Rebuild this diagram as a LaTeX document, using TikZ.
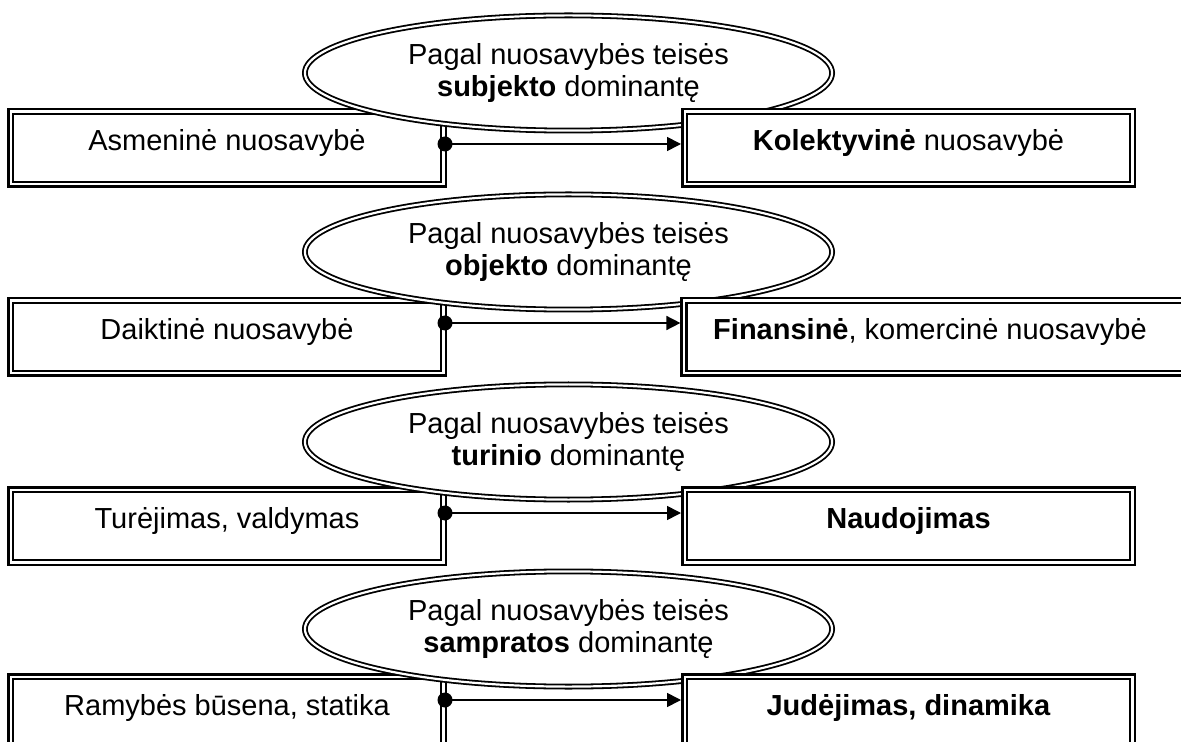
\documentclass[tikz,border=0pt]{standalone}
\usepackage{fontspec}
\setmainfont{Liberation Sans}
\usetikzlibrary{arrows.meta,shapes.geometric}
\tikzset{
  lbl/.style={font=\fontsize{14.5}{15.5}\selectfont, text height=10.5pt, text depth=8pt},
  boxnode/.style={rectangle, draw, line width=1.25pt, double=white, double distance=1.2pt, fill=white, inner sep=0pt, outer sep=1.85pt, minimum height=36.3pt, lbl},
  leftbox/.style={boxnode, minimum width=216.3pt},
  rightbox/.style={boxnode, minimum width=223.8pt},
  widebox/.style={boxnode, minimum width=257.9pt},
  oval/.style={ellipse, draw, line width=0.9pt, double=white, double distance=1.1pt, fill=white, inner sep=0pt, minimum width=263.6pt, minimum height=57.6pt, align=center, font=\fontsize{14.5}{15.8}\selectfont},
  dotnode/.style={circle, fill=black, inner sep=0pt, minimum size=7.5pt},
  conn/.style={line width=0.8pt, -{Triangle[length=7pt,width=7pt]}},
  plaintext/.style={lbl, inner sep=0pt}
}
\begin{document}
\begin{tikzpicture}[x=0.5pt,y=-0.5pt]
\useasboundingbox (0,0) rectangle (1181,742);
% row 1
\node[leftbox] (l1) at (227,148) {Asmeninė nuosavybė};
\node[oval] (e1) at (568.5,73) {Pagal nuosavybės teisės\\\textbf{subjekto} dominantę};
\node[rightbox] (r1) at (908.5,148) {\textbf{Kolektyvinė} nuosavybė};
\node[dotnode] (d1) at (445,144) {};
\draw[conn] (d1.center) -- (d1 -| r1.west);
% row 2
\node[leftbox] (l2) at (227,337) {Daiktinė nuosavybė};
\node[oval] (e2) at (568.5,252) {Pagal nuosavybės teisės\\\textbf{objekto} dominantę};
\node[widebox] (r2) at (942,337) {};
\node[plaintext] (t2) at (930,337) {\textbf{Finansinė}, komercinė nuosavybė};
\node[dotnode] (d2) at (445,323) {};
\draw[conn] (d2.center) -- (d2 -| r2.west);
% row 3
\node[leftbox] (l3) at (227,526) {Turėjimas, valdymas};
\node[oval] (e3) at (568.5,442) {Pagal nuosavybės teisės\\\textbf{turinio} dominantę};
\node[rightbox] (r3) at (908.5,526) {\textbf{Naudojimas}};
\node[dotnode] (d3) at (445,513) {};
\draw[conn] (d3.center) -- (d3 -| r3.west);
% row 4
\node[leftbox] (l4) at (227,713) {Ramybės būsena, statika};
\node[oval] (e4) at (568.5,629) {Pagal nuosavybės teisės\\\textbf{sampratos} dominantę};
\node[rightbox] (r4) at (908.5,713) {\textbf{Judėjimas, dinamika}};
\node[dotnode] (d4) at (445,700) {};
\draw[conn] (d4.center) -- (d4 -| r4.west);
\end{tikzpicture}
\end{document}
